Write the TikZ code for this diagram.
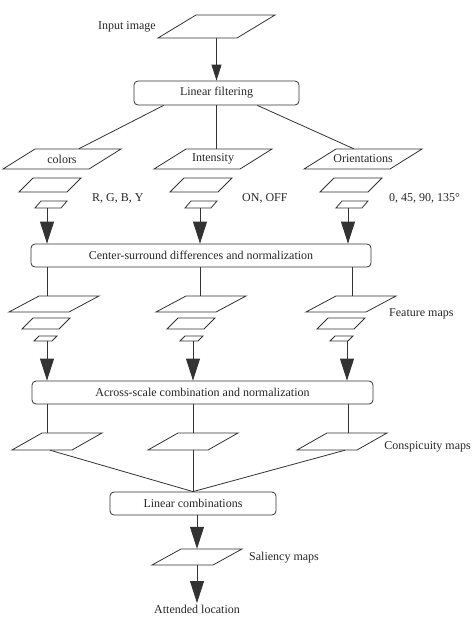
\documentclass[tikz,border=0pt]{standalone}
\usepackage{fontspec}
\setmainfont{Liberation Serif}
\usetikzlibrary{arrows.meta}
\newcommand\mypgram[7]{% name, xBL, yBottom, w, h, slant, text
  \draw[pgline] (#2,#3) -- ++(#4,0) -- ++(#6,-#5) -- ++(-#4,0) -- cycle;
  \node[pgnode, minimum width={(#4+#6)*1pt}, minimum height={#5*1pt}] (#1) at ({#2+(#4+#6)/2},{#3-#5/2}) {#7};
}
\begin{document}
\begin{tikzpicture}[x=1pt,y=-1pt,
  every node/.style={font=\fontsize{12}{14}\selectfont, text=black!85},
  pgline/.style={draw=black!80, line width=0.8pt, line join=miter},
  pgnode/.style={inner sep=0pt, draw=none},
  procbox/.style={draw=black!80, line width=0.8pt, rounded corners=4pt, inner sep=0pt},
  conn/.style={draw=black!80, line width=0.8pt},
  bigarrow/.style={conn, -{Triangle[width=14pt,length=22pt]}},
  smallarrow/.style={conn, -{Triangle[width=10pt,length=16pt]}},
  lbl/.style={inner sep=0pt, anchor=west}
]
\useasboundingbox (0,0) rectangle (473,622);

% input
\mypgram{inp}{158}{38}{79}{23}{38}{}
\node[lbl, anchor=east] (inplbl) at (156,27) {Input image};

% linear filtering
\node[procbox, minimum width=165pt, minimum height=24pt] (lf) at (216.5,93) {Linear filtering};
\draw[smallarrow] (inp.south) -- (lf.north);

% row 1
\mypgram{col}{3}{169}{86}{20}{32}{colors}
\mypgram{int}{154}{169}{86}{20}{32}{Intensity}
\mypgram{ori}{304}{169}{86}{20}{32}{Orientations}
\draw[conn] ([xshift=30pt]lf.south west) -- ([xshift=76pt]col.north west);
\draw[conn] (lf.south) -- (lf.south |- int.north);
\draw[conn] ([xshift=-42pt]lf.south east) -- ([xshift=50pt]ori.north west);

\mypgram{colm}{19}{192}{48}{14}{14}{}
\mypgram{intm}{170}{192}{48}{14}{14}{}
\mypgram{orim}{320}{192}{48}{14}{14}{}
\mypgram{cols}{35}{208}{26}{7}{6}{}
\mypgram{ints}{185}{208}{26}{7}{6}{}
\mypgram{oris}{336}{208}{26}{7}{6}{}

\node[lbl] (rgby) at (92,198) {R, G, B, Y};
\node[lbl] (onoff) at (242,198) {ON, OFF};
\node[lbl] (angles) at (389,198) {0, 45, 90, 135°};

% center-surround
\node[procbox, minimum width=340pt, minimum height=23pt] (cs) at (201,255.5) {Center-surround differences and normalization};
\draw[bigarrow] ([xshift=-4pt]cols.south) coordinate (t1) -- (t1 |- cs.north);
\draw[bigarrow] ([xshift=-1pt]ints.south) coordinate (t2) -- (t2 |- cs.north);
\draw[bigarrow] ([xshift=-4pt]oris.south) coordinate (t3) -- (t3 |- cs.north);

% feature maps
\mypgram{fcol}{9}{312}{60}{16}{30}{}
\mypgram{fint}{156}{312}{60}{16}{30}{}
\mypgram{fori}{306}{312}{60}{16}{30}{}
\draw[conn] ([xshift=-7pt]fcol.north) coordinate (u1) -- (u1 |- cs.south);
\draw[conn] ([xshift=-1pt]fint.north) coordinate (u2) -- (u2 |- cs.south);
\draw[conn] ([xshift=1pt]fori.north) coordinate (u3) -- (u3 |- cs.south);

\mypgram{fcolm}{22}{329}{37}{11}{11}{}
\mypgram{fintm}{167}{329}{37}{11}{11}{}
\mypgram{forim}{317}{329}{37}{11}{11}{}
\mypgram{fcols}{34}{341}{18}{5}{5}{}
\mypgram{fints}{180}{341}{18}{5}{5}{}
\mypgram{foris}{330}{341}{18}{5}{5}{}
\node[lbl] (fmlbl) at (389,314) {Feature maps};

% across-scale
\node[procbox, minimum width=341pt, minimum height=23pt] (as) at (202.5,392.5) {Across-scale combination and normalization};
\draw[bigarrow] ([xshift=1.5pt]fcols.south) coordinate (v1) -- (v1 |- as.north);
\draw[bigarrow] ([xshift=1.5pt]fints.south) coordinate (v2) -- (v2 |- as.north);
\draw[bigarrow] ([xshift=5.5pt]foris.south) coordinate (v3) -- (v3 |- as.north);

% conspicuity maps
\mypgram{ccol}{12}{450}{60}{17}{30}{}
\mypgram{cint}{148}{450}{60}{17}{30}{}
\mypgram{cori}{297}{450}{60}{17}{30}{}
\draw[conn] ([xshift=-10pt]ccol.north) coordinate (w1) -- (w1 |- as.south);
\draw[conn] (cint.north) coordinate (w2) -- (w2 |- as.south);
\draw[conn] ([xshift=6pt]cori.north) coordinate (w3) -- (w3 |- as.south);
\node[lbl, anchor=east] (cmlbl) at (471,447) {Conspicuity maps};

% linear combinations
\node[procbox, minimum width=166pt, minimum height=23pt] (lc) at (193,503.5) {Linear combinations};
\draw[conn] ([xshift=-7pt]ccol.south) -- (lc.north);
\draw[conn] (cint.south) -- (lc.north);
\draw[conn] ([xshift=3pt]cori.south) -- (lc.north);

% saliency
\mypgram{sal}{152}{565}{61}{16}{29}{}
\draw[bigarrow] (lc.south -| sal.north) -- (sal.north);
\node[lbl] (sallbl) at (249,558) {Saliency maps};

% attended location
\node[inner sep=1.5pt, anchor=north] (att) at (197,603) {Attended location};
\draw[bigarrow] (sal.south) -- (att.north);
\end{tikzpicture}
\end{document}
